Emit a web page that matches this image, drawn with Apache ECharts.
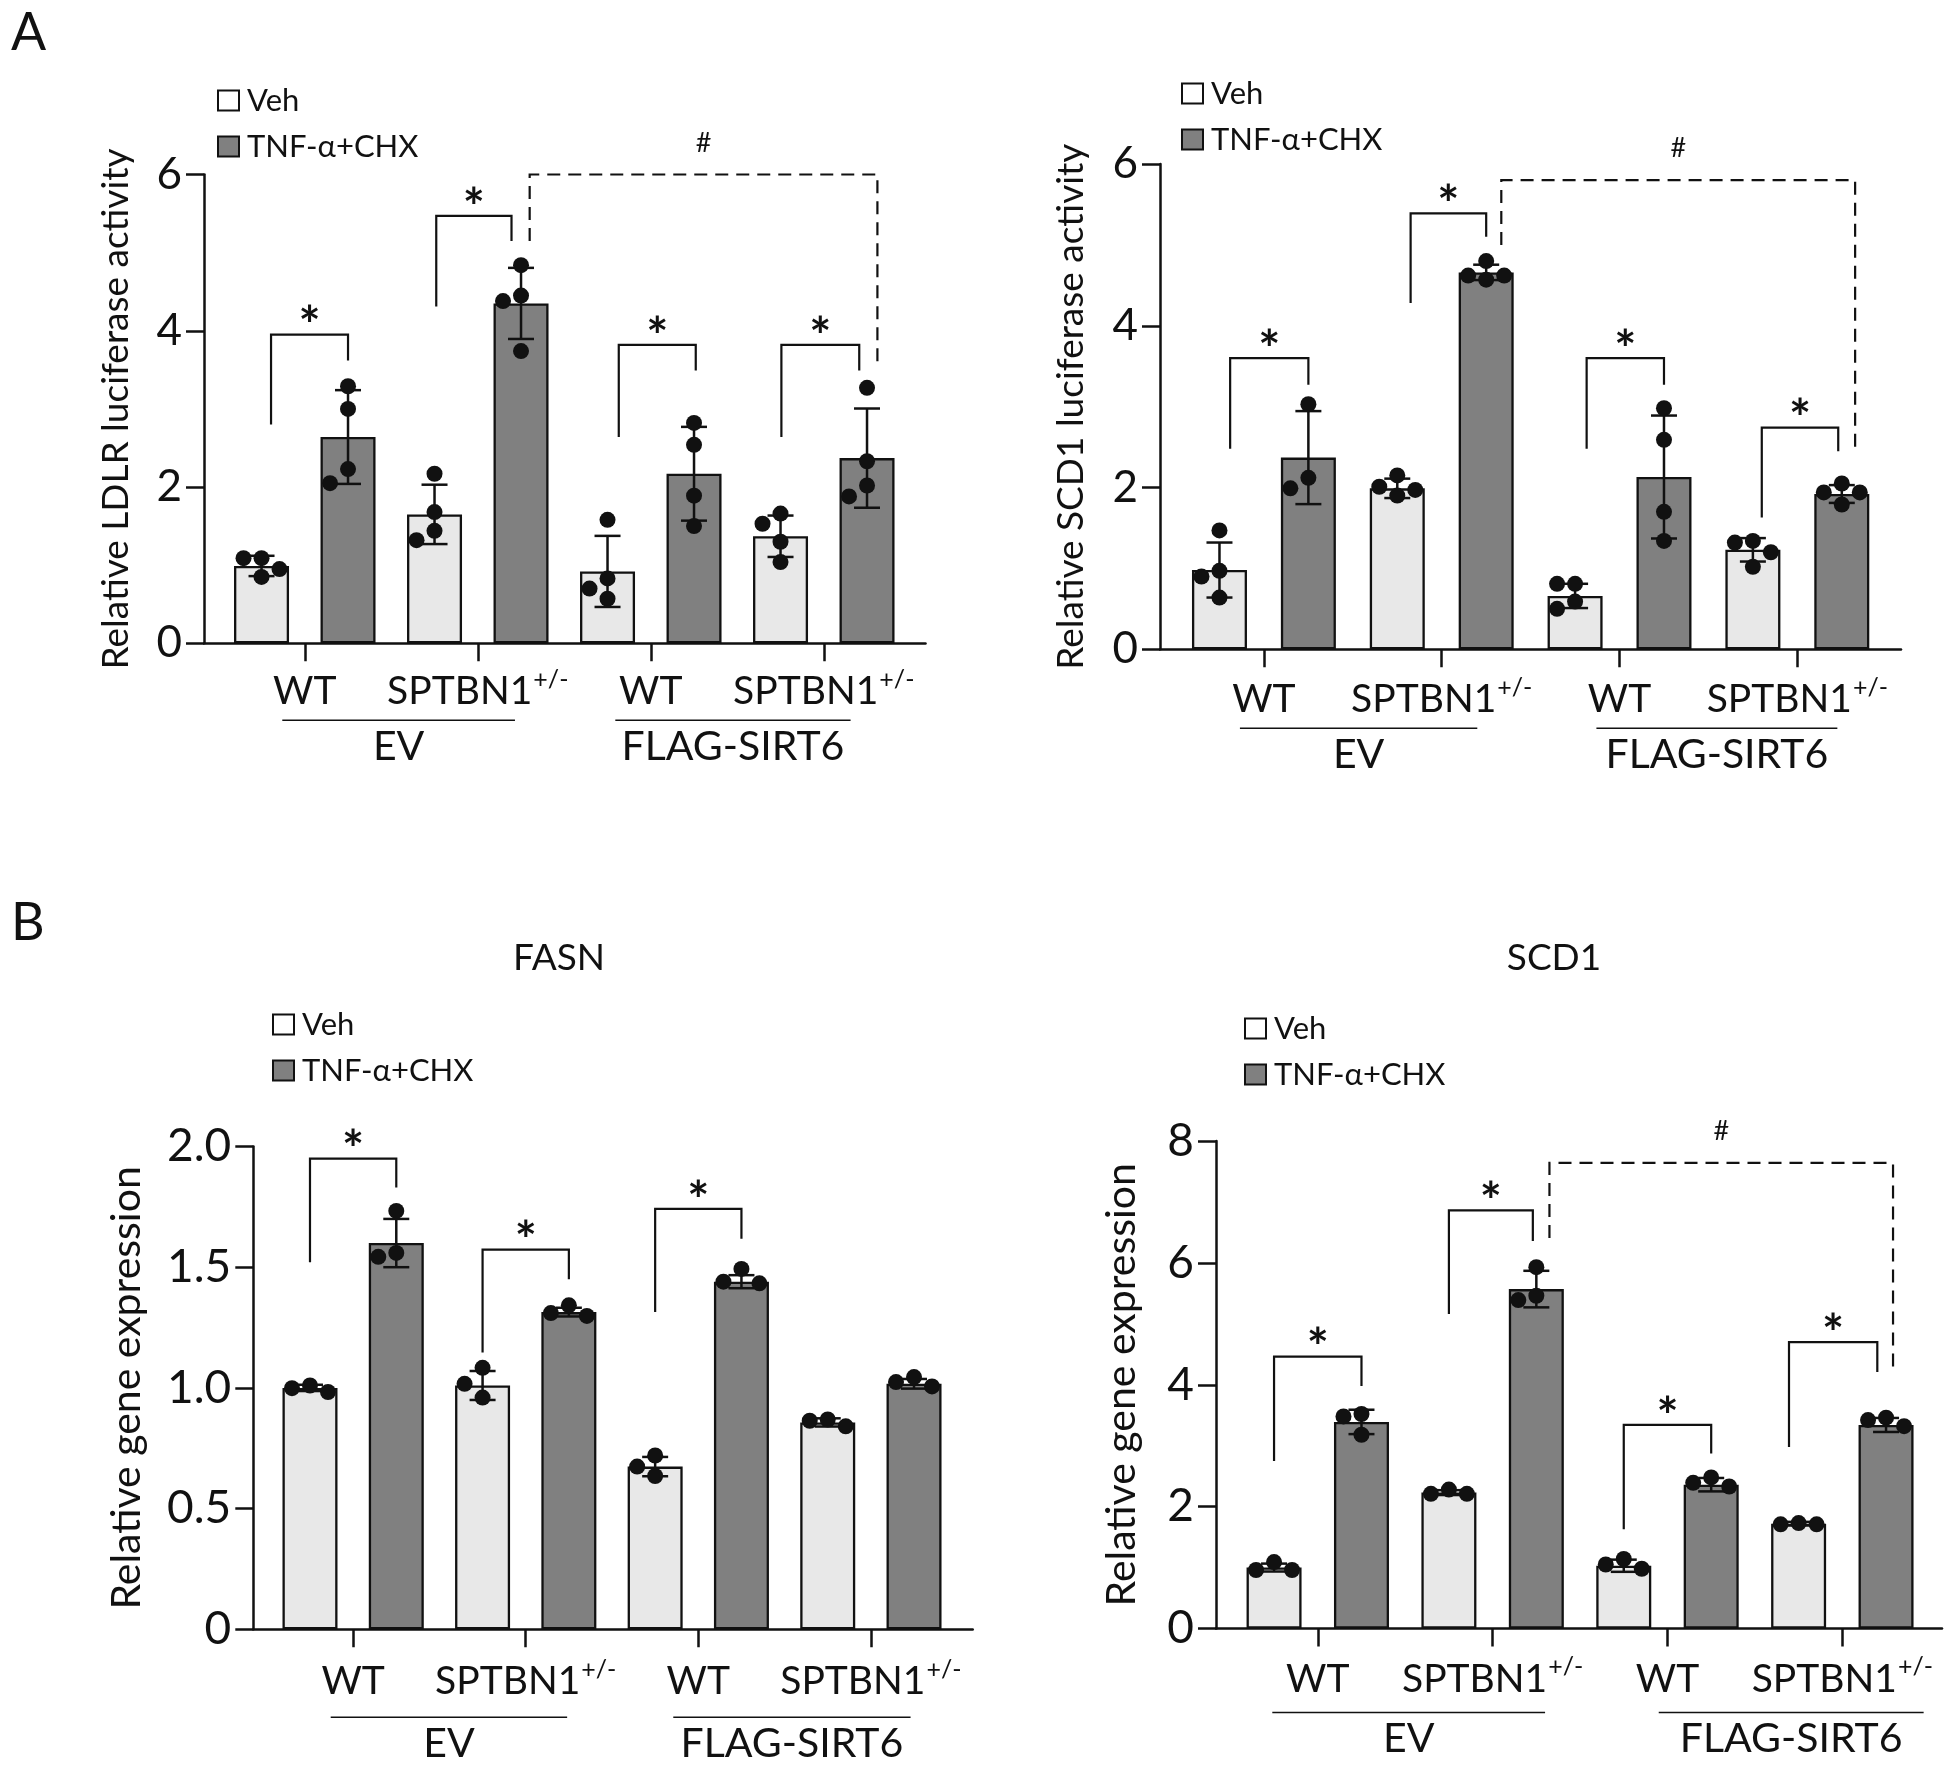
<!DOCTYPE html>
<html><head><meta charset="utf-8">
<script src="https://cdn.jsdelivr.net/npm/echarts@6/dist/echarts.min.js"></script>
<style>html,body{margin:0;padding:0;background:#fff}#c{width:1950px;height:1766px}</style>
</head><body><div id="c"></div>
<script>
// ---------------- DATA ----------------
const seriesNames = ['Veh', 'TNF-α+CHX'];
const genotypes = ['WT', 'SPTBN1'];
const genotypeSup = ['', '+/-'];
const vectors = ['EV', 'FLAG-SIRT6'];
const panelLetters = ['A', 'B'];
const panelTitles = ['FASN', 'SCD1'];
const yTitles = ['Relative LDLR luciferase activity', 'Relative SCD1 luciferase activity', 'Relative gene expression', 'Relative gene expression'];
// bar order: WT-EV Veh, WT-EV TNF, SPTBN1-EV Veh, SPTBN1-EV TNF, WT-SIRT6 Veh, WT-SIRT6 TNF, SPTBN1-SIRT6 Veh, SPTBN1-SIRT6 TNF

// Panel A left: LDLR luciferase
const ldlrMean = [0.99, 2.64, 1.65, 4.35, 0.92, 2.17, 1.37, 2.37];
const ldlrSD = [0.13, 0.60, 0.38, 0.455, 0.455, 0.60, 0.265, 0.635];
const ldlrDots = [[1.09,1.09,0.95,0.85],[3.29,3.00,2.23,2.05],[2.17,1.68,1.44,1.32],[4.84,4.45,4.38,3.74],[1.58,0.83,0.70,0.57],[2.82,2.54,1.89,1.50],[1.53,1.66,1.30,1.04],[3.27,2.33,2.02,1.88]];
const ldlrSig = [[0.11,1,2.80,3.95,3.62,'*'],[2.02,2.89,4.31,5.47,5.15,'*'],[4.13,5.02,2.64,3.82,3.49,'*'],[6.01,6.91,2.64,3.82,3.49,'*'],[3.10,7.12,5.15,6.00,3.55,'#']];

// Panel A right: SCD1 luciferase
const scdLucMean = [0.98, 2.37, 1.99, 4.66, 0.66, 2.13, 1.23, 1.92];
const scdLucSD = [0.34, 0.575, 0.12, 0.095, 0.15, 0.76, 0.145, 0.11];
const scdLucDots = [[1.47,0.97,0.90,0.64],[3.03,1.99,2.12],[1.90,1.97,2.01,2.15],[4.80,4.57,4.62,4.62],[0.81,0.81,0.50,0.59],[2.98,2.59,1.70,1.34],[1.34,1.32,1.20,1.02],[2.05,1.94,1.94,1.79]];
const scdLucSig = [[0.12,1,2.48,3.60,3.27,'*'],[2.15,3,4.28,5.39,5.10,'*'],[4.13,5,2.48,3.60,3.27,'*'],[6.10,6.96,1.63,2.74,2.45,'*'],[3.17,7.15,5.00,5.80,2.45,'#']];

// Panel B left: FASN expression
const fasnMean = [1.00, 1.60, 1.01, 1.314, 0.674, 1.44, 0.857, 1.017];
const fasnSD = [0.013, 0.10, 0.06, 0.018, 0.04, 0.027, 0.017, 0.02];
const fasnDots = [[0.983,1.01,0.999],[1.733,1.543,1.559],[1.083,1.017,0.96],[1.298,1.342,1.31],[0.72,0.635,0.674],[1.433,1.493,1.44],[0.841,0.869,0.864],[1.006,1.045,1.024]];
const fasnSig = [[0,1,1.52,1.95,1.83,'*'],[2,3,1.147,1.573,1.45,'*'],[4,5,1.314,1.742,1.618,'*']];

// Panel B right: SCD1 expression
const scdMean = [1.00, 3.39, 2.23, 5.57, 1.03, 2.36, 1.72, 3.34];
const scdSD = [0.065, 0.20, 0.04, 0.30, 0.10, 0.11, 0.03, 0.115];
const scdDots = [[0.96,1.09,0.96],[3.52,3.18,3.48],[2.21,2.28,2.21],[5.93,5.39,5.46],[0.98,1.14,1.05],[2.33,2.48,2.39],[1.71,1.73,1.71],[3.32,3.46,3.42]];
const scdSig = [[0,1,2.75,4.46,3.98,'*'],[2,2.96,5.16,6.86,6.36,'*'],[4,5,1.63,3.34,2.87,'*'],[5.89,6.90,2.98,4.70,4.21,'*'],[3.15,7.08,6.41,7.64,4.21,'#']];

const yTickMax = [6, 6, 2.0, 8];
const yTickStep = [2, 2, 0.5, 2];

// ---------------- LAYOUT / STYLE ----------------
const FONT = 'Lato';
const INK = '#111';
const VEH = '#e8e8e8';
const TNF = '#808080';
const DOT = 16;

const layout = [
  {grid:{left:204, top:174.5, width:721.5, height:468.8}, xMin:-0.665, xMax:7.676, gl:[[0.24,2.93],[4.09,6.81]], glOff:77, legend:{left:212, top:80}, nameGap:69, yTitleSize:37, catMargin:24, tickSize:44},
  {grid:{left:1160, top:164, width:741, height:485.3}, xMin:-0.669, xMax:7.666, gl:[[0.23,2.90],[4.24,6.95]], glOff:79, legend:{left:1176, top:73}, nameGap:70, yTitleSize:37, catMargin:26, tickSize:44},
  {grid:{left:253.3, top:1146.5, width:719.4, height:482.8}, xMin:-0.657, xMax:7.68, gl:[[0.24,2.98],[4.21,6.96]], glOff:88, legend:{left:267, top:1004}, nameGap:106, yTitleSize:41, catMargin:28, tickSize:46},
  {grid:{left:1216, top:1141, width:726, height:487.5}, xMin:-0.664, xMax:7.64, gl:[[-0.02,3.10],[4.40,7.43]], glOff:84, legend:{left:1239, top:1008}, nameGap:74, yTitleSize:41, catMargin:26, tickSize:46}
];

const panelData = [
  {mean:ldlrMean, sd:ldlrSD, dots:ldlrDots, sig:ldlrSig},
  {mean:scdLucMean, sd:scdLucSD, dots:scdLucDots, sig:scdLucSig},
  {mean:fasnMean, sd:fasnSD, dots:fasnDots, sig:fasnSig},
  {mean:scdMean, sd:scdSD, dots:scdDots, sig:scdSig}
];

function swarm(pts, d, step) {
  const order = pts.map((p, i) => i).sort((a, b) => pts[a][1] - pts[b][1]);
  const placed = [], out = [];
  for (const i of order) {
    const x0 = pts[i][0], y0 = pts[i][1];
    let cx = x0;
    for (const c of [0, -1, 1, -2, 2]) {
      const tx = x0 + c * step;
      if (placed.every(p => Math.hypot(p[0] - tx, p[1] - y0) >= d)) { cx = tx; break; }
    }
    placed.push([cx, y0]); out[i] = [cx, y0];
  }
  return out;
}

const grids = [], xAxes = [], yAxes = [], series = [], legends = [];
const tickPos = [0.5, 2.5, 4.5, 6.5];

panelData.forEach((pd, k) => {
  const L = layout[k];
  grids.push(Object.assign({containLabel:false}, L.grid));
  xAxes.push({
    type:'value', gridIndex:k, min:L.xMin, max:L.xMax,
    splitLine:{show:false},
    axisLine:{show:true, onZero:false, lineStyle:{color:INK, width:2.5}},
    axisTick:{show:true, customValues:tickPos, length:18, lineStyle:{color:INK, width:2.5}},
    axisLabel:{show:true, customValues:tickPos, margin:L.catMargin, color:INK,
      formatter:(v) => { const g = Math.round((v - 0.5) / 2) % 2; return genotypeSup[g] ? '{n|' + genotypes[g] + '}{s|' + genotypeSup[g] + '}' : '{n|' + genotypes[g] + '}'; },
      rich:{n:{fontFamily:FONT, fontSize:39, color:INK, lineHeight:44, verticalAlign:'bottom'}, s:{fontFamily:FONT, fontSize:25, color:INK, lineHeight:44, verticalAlign:'top', padding:[0,0,0,1]}}
    }
  });
  yAxes.push({
    type:'value', gridIndex:k, min:0, max:yTickMax[k], interval:yTickStep[k],
    splitLine:{show:false},
    axisLine:{show:true, onZero:false, lineStyle:{color:INK, width:2.5}},
    axisTick:{show:true, length:18, lineStyle:{color:INK, width:2.5}},
    axisLabel:{margin:22, color:INK, fontFamily:FONT, fontSize:L.tickSize,
      formatter:(v) => v === 0 ? '0' : (yTickStep[k] < 1 ? v.toFixed(1) : String(v))},
    name:yTitles[k], nameLocation:'middle', nameGap:L.nameGap,
    nameTextStyle:{fontFamily:FONT, fontSize:L.yTitleSize, color:INK}
  });
  // bars
  [0, 1].forEach(s => {
    series.push({
      type:'bar', name:seriesNames[s], xAxisIndex:k, yAxisIndex:k,
      barWidth:55, barGap:'-100%', z:2,
      itemStyle:{color: s === 0 ? VEH : TNF, borderColor:INK, borderWidth:2.3},
      data: pd.mean.map((m, i) => [i, m]).filter((d, i) => i % 2 === s)
    });
  });
  // error bars
  series.push({
    type:'custom', xAxisIndex:k, yAxisIndex:k, z:3, silent:true,
    data: pd.mean.map((m, i) => [i, m - pd.sd[i], m + pd.sd[i]]),
    encode:{x:0, y:[1, 2]},
    renderItem:(params, api) => {
      const lo = api.coord([api.value(0), api.value(1)]);
      const hi = api.coord([api.value(0), api.value(2)]);
      const w = 13;
      const st = {stroke:INK, lineWidth:2.5};
      return {type:'group', children:[
        {type:'line', shape:{x1:lo[0], y1:lo[1], x2:hi[0], y2:hi[1]}, style:st},
        {type:'line', shape:{x1:hi[0]-w, y1:hi[1], x2:hi[0]+w, y2:hi[1]}, style:st},
        {type:'line', shape:{x1:lo[0]-w, y1:lo[1], x2:lo[0]+w, y2:lo[1]}, style:st}
      ]};
    }
  });
  // dots
  series.push({
    type:'custom', xAxisIndex:k, yAxisIndex:k, z:4, silent:true,
    data: pd.mean.map((m, i) => [i, Math.max.apply(null, pd.dots[i]), Math.min.apply(null, pd.dots[i])]),
    encode:{x:0, y:[1, 2]},
    renderItem:(params, api) => {
      const i = params.dataIndex;
      const pts = pd.dots[i].map(v => api.coord([i, v]));
      const pos = swarm(pts, DOT, 18);
      return {type:'group', children: pos.map(p => ({type:'circle', shape:{cx:p[0], cy:p[1], r:DOT / 2}, style:{fill:INK}}))};
    }
  });
  // significance brackets
  series.push({
    type:'custom', xAxisIndex:k, yAxisIndex:k, z:5, silent:true, clip:false,
    data: pd.sig.map(b => [b[0], b[3]]),
    encode:{x:0, y:1},
    renderItem:(params, api) => {
      const b = pd.sig[params.dataIndex];
      const p0 = api.coord([b[0], b[2]]), p1 = api.coord([b[0], b[3]]), p2 = api.coord([b[1], b[3]]), p3 = api.coord([b[1], b[4]]);
      const dashed = b[5] === '#';
      const mid = (p1[0] + p2[0]) / 2;
      return {type:'group', children:[
        {type:'polyline', shape:{points:[p0, p1, p2, p3]}, style:{stroke:INK, lineWidth:2.2, fill:null, lineDash: dashed ? [13, 8] : null}},
        {type:'text', style:{text:b[5], x:mid, y: dashed ? p1[1] - 18 : p1[1] + 19, align:'center', verticalAlign:'bottom', fontFamily:FONT, fontSize: dashed ? 27 : 52, fontWeight: dashed ? 'normal' : 'bold', fill:INK}}
      ]};
    }
  });
  // group labels (EV / FLAG-SIRT6)
  series.push({
    type:'custom', xAxisIndex:k, yAxisIndex:k, z:5, silent:true, clip:false,
    data: vectors.map((v, g) => [g * 4 + 1.5, 0]),
    encode:{x:0, y:1},
    renderItem:(params, api) => {
      const g = params.dataIndex;
      const a = api.coord([L.gl[g][0], 0]), b = api.coord([L.gl[g][1], 0]);
      const y = a[1] + L.glOff;
      return {type:'group', children:[
        {type:'line', shape:{x1:a[0], y1:y, x2:b[0], y2:y}, style:{stroke:INK, lineWidth:1.5}},
        {type:'text', style:{text:vectors[g], x:(a[0] + b[0]) / 2, y:y + 6, align:'center', verticalAlign:'top', fontFamily:FONT, fontSize:41, fill:INK}}
      ]};
    }
  });
  legends.push({
    orient:'vertical', left:L.legend.left, top:L.legend.top, itemWidth:21, itemHeight:20, itemGap:15,
    icon:'rect', selectedMode:false,
    data:[{name:seriesNames[0], itemStyle:{color:'#fff', borderColor:INK, borderWidth:2}}, {name:seriesNames[1], itemStyle:{color:TNF, borderColor:INK, borderWidth:2}}],
    textStyle:{fontFamily:FONT, fontSize:31, color:INK, padding:[0,0,0,3]}
  });
});

const option = {
  backgroundColor:'#fff',
  animation:false,
  textStyle:{fontFamily:FONT},
  title:[
    {text:panelLetters[0], left:6, top:2, textStyle:{fontFamily:FONT, fontSize:52, fontWeight:'normal', color:INK}},
    {text:panelLetters[1], left:6, top:892, textStyle:{fontFamily:FONT, fontSize:52, fontWeight:'normal', color:INK}},
    {text:panelTitles[0], left:554, textAlign:'center', top:935, textStyle:{fontFamily:FONT, fontSize:37, fontWeight:'normal', color:INK}},
    {text:panelTitles[1], left:1549, textAlign:'center', top:935, textStyle:{fontFamily:FONT, fontSize:37, fontWeight:'normal', color:INK}}
  ],
  legend:legends,
  grid:grids,
  xAxis:xAxes,
  yAxis:yAxes,
  series:series
};

const chart = echarts.init(document.getElementById('c'), null, {renderer:'canvas', width:1950, height:1766});
chart.setOption(option);
</script>
</body></html>
